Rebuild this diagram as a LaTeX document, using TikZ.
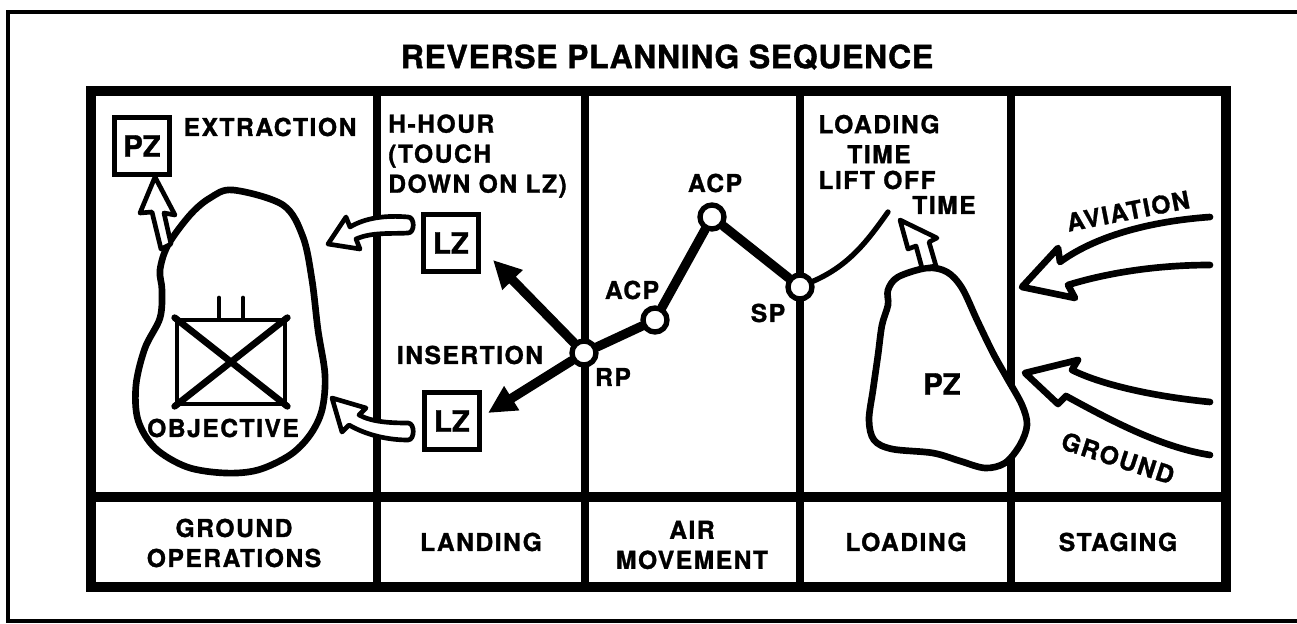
\documentclass[tikz,border=0pt]{standalone}
\usepackage{fontspec}
\setmainfont{TeX Gyre Heros}
\newfontfamily\lblfont[LetterSpace=6, FakeBold=1.2]{TeX Gyre Heros}
\newfontfamily\ttlfont[LetterSpace=2, FakeBold=1.2]{TeX Gyre Heros}
\newfontfamily\zonefont[FakeBold=1.2]{TeX Gyre Heros}
\usetikzlibrary{arrows.meta,calc}

\tikzset{
  lbl/.style={font=\lblfont\bfseries\fontsize{18.5}{22.5}\selectfont, inner sep=0pt},
  zonebox/.style={draw, line width=3.5pt, minimum width=41pt, minimum height=43pt, inner sep=0pt,
    font=\zonefont\bfseries\fontsize{22}{24}\selectfont},
  waypt/.style={circle, draw, fill=white, line width=4pt, minimum size=18pt, inner sep=0pt},
  mainframe/.style={line width=7.5pt},
  divider/.style={line width=5.5pt},
  blob/.style={line width=5pt, fill=white},
  hollow/.style={line width=3.5pt, fill=white, line join=round},
  route/.style={line width=7pt},
  insert/.style={line width=7pt, -{Triangle[length=21pt,width=20pt]}},
  flow/.style={line width=5pt, line join=round, line cap=round},
}

\begin{document}
\begin{tikzpicture}[x=0.75pt, y=-0.75pt, line cap=round]
  \path[use as bounding box] (0,0) rectangle (1297,624);

  % frame and table
  \draw[line width=3.5pt] (1330,12) -- (8,12) -- (8,621) -- (1330,621);
  \node[font=\ttlfont\bfseries\fontsize{24}{26}\selectfont, inner sep=0pt] (title) at (667,57) {REVERSE PLANNING SEQUENCE};
  \draw[mainframe, line cap=butt] (91,91) rectangle (1226,587);
  \draw[mainframe, line cap=butt] (91,497) -- (1226,497);
  \foreach \x in {377,585,800,1011} {
    \draw[divider, line cap=butt] (\x,91) -- (\x,587);
  }

  % phase names
  \node[lbl, align=center] (phground) at (234,543) {GROUND\\OPERATIONS};
  \node[lbl] (phlanding) at (481,542) {LANDING};
  \node[lbl, align=center] (phair) at (692,545) {AIR\\MOVEMENT};
  \node[lbl] (phloading) at (906,542) {LOADING};
  \node[lbl] (phstaging) at (1118,542) {STAGING};

  % ground operations
  \draw[blob] plot[smooth cycle, tension=0.55] coordinates {(233,190) (283,205) (303,237) (312,280) (318,330) (325,375) (322,410) (310,435) (290,455) (258,470) (225,473) (187,467) (155,448) (138,420) (136,385) (145,348) (160,318) (162,290) (160,270) (168,245) (190,215) (210,198)};
  \node[draw, line width=3.5pt, minimum width=81pt, minimum height=63pt] (objbox) at (231,362) {};
  \draw[line width=5pt] (objbox.north west) -- (objbox.south east) (objbox.north east) -- (objbox.south west);
  \draw[line width=3pt] ($(objbox.north)+(-12,0)$) -- ++(0,-20) ($(objbox.north)+(12,0)$) -- ++(0,-20);
  \node[lbl] (objective) at (223,428) {OBJECTIVE};
  \filldraw[hollow] (155,177) -- (140,213) -- (152,212) -- (161,249) -- (171,244) -- (164,213) -- (175,215) -- cycle;
  \node[zonebox] (pzext) at (142,146) {PZ};
  \node[lbl] (extraction) at (270,127) {EXTRACTION};

  % landing
  \filldraw[hollow] (346,217) -- (328,244) -- (360,249) -- (356,239) .. controls (372,232) and (390,234) .. (408,233)
    .. controls (415,233) and (415,217) .. (408,217) .. controls (385,215) and (365,218) .. (350,227) -- cycle;
  \filldraw[hollow] (366,408) -- (332,398) -- (342,432) -- (349,425) .. controls (368,436) and (390,440) .. (408,440)
    .. controls (415,440) and (415,423) .. (408,423) .. controls (390,423) and (372,422) .. (359,415) -- cycle;
  \node[lbl, align=left, anchor=west] (hhour) at (388,156) {H-HOUR\\(TOUCH\\DOWN ON LZ)};
  \node[zonebox] (lzA) at (451,243) {LZ};
  \node[zonebox] (lzB) at (452,421) {LZ};
  \node[lbl] (insertion) at (470,355) {INSERTION};

  % air movement
  \node[waypt] (rp) at (584,353) {};
  \node[waypt] (acpA) at (655,320) {};
  \node[waypt] (acpB) at (712,217) {};
  \node[waypt] (sp) at (800,287) {};
  \coordinate (lzAtip) at (493,260);
  \coordinate (lzBtip) at (488,413);
  \draw[insert] (rp) -- (lzAtip);
  \draw[insert] (rp) -- (lzBtip);
  \draw[route] (rp) -- (acpA) -- (acpB) -- (sp);
  \node[lbl] (rplbl) at (613,377) {RP};
  \node[lbl] (acpAlbl) at (632,290) {ACP};
  \node[lbl] (acpBlbl) at (715,183) {ACP};
  \node[lbl] (splbl) at (768,313) {SP};

  % loading
  \coordinate (liftend) at (888,212);
  \draw[line width=4pt] (sp) .. controls (850,265) and (868,240) .. (liftend);
  \node[lbl, align=center] (loadtime) at (879,139) {LOADING\\TIME};
  \node[lbl] (liftoff) at (877,180) {LIFT OFF};
  \node[lbl] (lifttime) at (944,205) {TIME};
  \draw[blob] plot[smooth cycle, tension=0.55] coordinates {(927,268) (947,272) (962,288) (977,320) (993,353) (1007,378) (1022,405) (1027,425) (1020,445) (1005,463) (985,468) (960,461) (933,453) (892,449) (874,440) (869,420) (873,390) (878,355) (882,325) (888,305) (888,290) (898,277)};
  \filldraw[hollow] (900,220) -- (908,249) -- (916,246) -- (922,268) -- (936,266) -- (929,242) -- (937,238) -- cycle;
  \node[font=\zonefont\bfseries\fontsize{22}{24}\selectfont, inner sep=0pt] (pzload) at (942,384) {PZ};

  % staging
  \draw[flow] (1210,217) .. controls (1140,222) and (1090,240) .. (1060,262) -- (1058,248) -- (1022,287) -- (1075,298)
    -- (1068,285) .. controls (1110,272) and (1160,265) .. (1210,265);
  \draw[flow] (1210,402) .. controls (1150,396) and (1100,384) .. (1072,370) -- (1078,360) -- (1025,373) -- (1058,404)
    -- (1066,396) .. controls (1110,420) and (1160,447) .. (1210,455);
  \node[lbl, rotate=11] (aviation) at (1128,211) {AVIATION};
  \node[lbl, rotate=-18] (ground) at (1118,458) {GROUND};
\end{tikzpicture}
\end{document}
